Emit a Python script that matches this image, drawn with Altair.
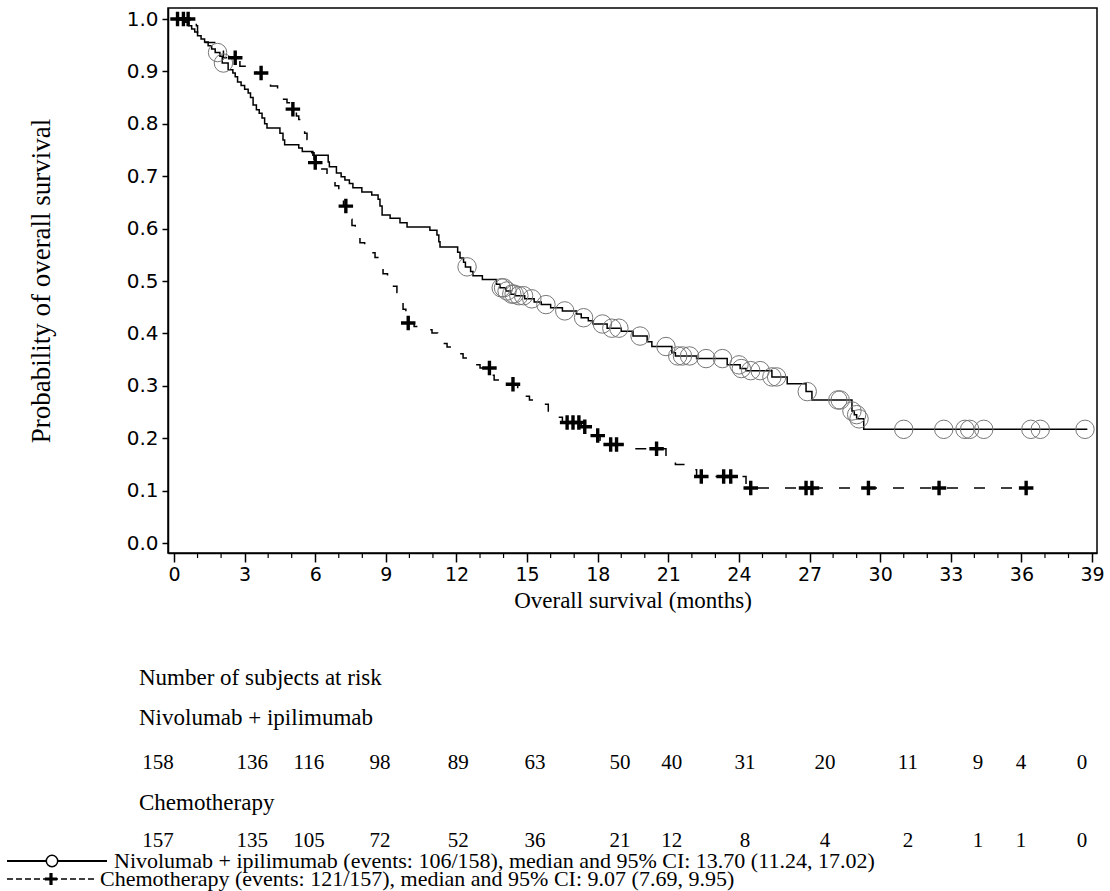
import altair as alt
import pandas as pd

# ---------------- data ----------------
nivo_t = [0, 0.5, 0.62, 0.75, 0.88, 1.0, 1.15, 1.3, 1.45, 1.6, 1.75, 1.95, 2.05, 2.3, 2.5,
          2.6, 2.7, 2.85, 3.0, 3.15, 3.25, 3.36, 3.5, 3.62, 3.74, 3.85, 3.95, 4.5, 4.63, 4.7,
          5.3, 5.45, 5.9, 6.55, 6.6, 6.9, 7.1, 7.26, 7.45, 7.6, 7.98, 8.4, 8.67, 8.75, 8.84,
          9.18, 9.6, 9.9, 10.87, 11.17, 11.25, 11.3, 12.05, 12.15, 12.3, 12.38, 12.6, 12.7,
          13.1, 13.7, 13.85, 14.1, 14.3, 14.5, 14.9, 15.3, 15.6, 16.0, 16.5, 17.1, 17.3, 17.6,
          17.8, 18.4, 19.0, 19.5, 20.1, 20.3, 21.15, 21.3, 22.2, 23.5, 24.05, 24.3, 25.4,
          26.05, 26.85, 27.1, 28.8, 28.9, 29.0, 29.3, 38.8]
nivo_s = [1.0, 0.994, 0.987, 0.981, 0.975, 0.968, 0.962, 0.956, 0.949, 0.943, 0.936, 0.929,
          0.916, 0.903, 0.897, 0.89, 0.88, 0.873, 0.866, 0.859, 0.85, 0.836, 0.827, 0.82,
          0.811, 0.80, 0.792, 0.782, 0.769, 0.76, 0.754, 0.747, 0.740, 0.727, 0.718, 0.706,
          0.699, 0.693, 0.686, 0.678, 0.670, 0.664, 0.656, 0.643, 0.626, 0.620, 0.611, 0.603,
          0.597, 0.588, 0.575, 0.565, 0.555, 0.544, 0.536, 0.527, 0.518, 0.51, 0.503, 0.494,
          0.487, 0.481, 0.475, 0.472, 0.466, 0.46, 0.455, 0.449, 0.443, 0.437, 0.43, 0.424,
          0.418, 0.41, 0.404, 0.395, 0.384, 0.375, 0.363, 0.357, 0.352, 0.340, 0.333, 0.329,
          0.317, 0.304, 0.289, 0.273, 0.252, 0.245, 0.237, 0.217, 0.217]

nivo_cens_t = [1.85, 2.1, 12.45, 13.9, 14.0, 14.15, 14.35, 14.45, 14.65, 14.85, 15.2, 15.8,
               16.6, 17.4, 18.2, 18.6, 18.9, 19.8, 20.9, 21.4, 21.6, 21.9, 22.6, 23.3, 24.0,
               24.1, 24.5, 24.9, 25.4, 25.6, 26.9, 28.2, 28.3, 28.8, 29.0, 29.1, 31.0, 32.7,
               33.6, 33.8, 34.4, 36.4, 36.8, 38.7]
nivo_cens_s = [0.936, 0.916, 0.527, 0.487, 0.487, 0.481, 0.475, 0.475, 0.472, 0.472, 0.466,
               0.455, 0.443, 0.43, 0.418, 0.41, 0.41, 0.395, 0.375, 0.357, 0.357, 0.357, 0.352,
               0.352, 0.340, 0.333, 0.329, 0.329, 0.317, 0.317, 0.289, 0.273, 0.273, 0.252,
               0.245, 0.237, 0.217, 0.217, 0.217, 0.217, 0.217, 0.217, 0.217, 0.217]

chemo_t = [0, 0.95, 1.0, 1.2, 1.8, 2.1, 2.8, 3.5, 3.9, 4.1, 4.4, 4.6, 4.8, 5.0, 5.2, 5.3,
           5.4, 5.55, 5.65, 5.75, 5.85, 5.95, 6.2, 6.5, 6.84, 7.0, 7.1, 7.2, 7.4, 7.5, 7.56,
           7.7, 7.9, 8.1, 8.3, 8.54, 8.7, 8.88, 9.07, 9.47, 9.6, 9.73, 9.85, 10.2, 10.5,
           10.96, 11.2, 11.4, 11.6, 11.9, 12.1, 12.28, 12.6, 12.8, 13.0, 13.5, 13.6, 14.0,
           14.6, 14.9, 15.1, 15.5, 15.9, 16.2, 16.5, 17.3, 17.6, 17.9, 18.1, 18.5, 19.5,
           20.9, 21.3, 21.9, 22.2, 24.3, 36.2]
chemo_s = [1.0, 0.987, 0.968, 0.955, 0.942, 0.926, 0.91, 0.897, 0.885, 0.872, 0.86, 0.847,
           0.84, 0.828, 0.815, 0.808, 0.795, 0.782, 0.77, 0.757, 0.745, 0.726, 0.714, 0.701,
           0.682, 0.67, 0.656, 0.643, 0.63, 0.618, 0.606, 0.592, 0.573, 0.56, 0.554, 0.545,
           0.528, 0.514, 0.49, 0.478, 0.465, 0.446, 0.42, 0.413, 0.407, 0.401, 0.394, 0.381,
           0.374, 0.368, 0.361, 0.353, 0.347, 0.340, 0.334, 0.32, 0.311, 0.303, 0.29, 0.28,
           0.273, 0.265, 0.25, 0.24, 0.23, 0.222, 0.214, 0.205, 0.196, 0.188, 0.18, 0.165,
           0.15, 0.14, 0.127, 0.105, 0.105]

chemo_cens_t = [0.15, 0.4, 0.6, 2.6, 3.7, 5.05, 6.0, 7.3, 9.95, 13.4, 14.4, 16.7, 16.95,
                17.2, 17.45, 18.0, 18.55, 18.8, 20.5, 22.4, 23.35, 23.65, 24.5, 26.85, 27.1,
                29.5, 32.5, 36.2]
chemo_cens_s = [1.0, 1.0, 1.0, 0.926, 0.897, 0.828, 0.726, 0.643, 0.42, 0.334, 0.303, 0.23,
                0.23, 0.23, 0.222, 0.205, 0.188, 0.188, 0.18, 0.127, 0.127, 0.127, 0.105,
                0.105, 0.105, 0.105, 0.105, 0.105]

risk_nivo = [158, 136, 116, 98, 89, 63, 50, 40, 31, 20, 11, 9, 4, 0]
risk_chemo = [157, 135, 105, 72, 52, 36, 21, 12, 8, 4, 2, 1, 1, 0]
# column positions of the at-risk table, expressed in months on the x scale
risk_col_pos = [-0.68, 3.32, 5.73, 8.75, 12.07, 15.34, 18.95, 21.15, 24.26, 27.66, 31.18,
                34.15, 35.98, 38.57]

x_major_ticks = [0, 3, 6, 9, 12, 15, 18, 21, 24, 27, 30, 33, 36, 39]
x_minor_ticks = [1, 2, 4, 5, 7, 8, 10, 11, 13, 14, 16, 17, 19, 20, 22, 23, 25, 26, 28, 29,
                 31, 32, 34, 35, 37, 38]
y_tick_values = [0.0, 0.1, 0.2, 0.3, 0.4, 0.5, 0.6, 0.7, 0.8, 0.9, 1.0]

label_nivo = "Nivolumab + ipilimumab"
label_chemo = "Chemotherapy"
legend_nivo = "Nivolumab + ipilimumab (events: 106/158), median and 95% CI: 13.70 (11.24, 17.02)"
legend_chemo = "Chemotherapy (events: 121/157), median and 95% CI: 9.07 (7.69, 9.95)"
risk_title = "Number of subjects at risk"

# ---------------- layout ----------------
W, H = 929, 545
SERIF = "Liberation Serif"
SANS = "DejaVu Sans"
xs = alt.Scale(domain=[-0.255, 39.21], nice=False, zero=False)
ys = alt.Scale(domain=[-0.019, 1.021], nice=False, zero=False)

x_axis = alt.Axis(
    values=x_major_ticks, tickSize=9, format="d", grid=False, labelOverlap=False,
    labelFlush=False, labelBound=False,
    title="Overall survival (months)", titleFont=SERIF, titleFontSize=23,
    titleFontWeight="normal", titleColor="black", titlePadding=5,
    labelFont=SANS, labelFontSize=19, labelColor="black", labelPadding=3,
    domainColor="black", domainWidth=1.5, tickColor="black", tickWidth=1.5)
y_axis = alt.Axis(
    values=y_tick_values, format=".1f", grid=False, tickSize=6, labelOverlap=False,
    labelFlush=False, labelBound=False,
    title="Probability of overall survival", titleFont=SERIF, titleFontSize=27,
    titleFontWeight="normal", titleColor="black", titlePadding=71,
    labelFont=SANS, labelFontSize=20, labelColor="black", labelPadding=4,
    domainColor="black", domainWidth=1.5, tickColor="black", tickWidth=1.5)

nivo_df = pd.DataFrame({"t": nivo_t, "s": nivo_s})
chemo_df = pd.DataFrame({"t": chemo_t, "s": chemo_s})
nivo_c = pd.DataFrame({"t": nivo_cens_t, "s": nivo_cens_s})
chemo_c = pd.DataFrame({"t": chemo_cens_t, "s": chemo_cens_s})

nivo_line = alt.Chart(nivo_df).mark_line(interpolate="step-after", color="black", strokeWidth=1.5).encode(
    x=alt.X("t:Q", scale=xs, axis=x_axis), y=alt.Y("s:Q", scale=ys, axis=y_axis))
chemo_line = alt.Chart(chemo_df).mark_line(interpolate="step-after", color="black", strokeWidth=1.5,
                                           strokeDash=[11, 16]).encode(
    x=alt.X("t:Q", scale=xs), y=alt.Y("s:Q", scale=ys))
nivo_pts = alt.Chart(nivo_c).mark_point(shape="circle", size=340, filled=False, color="#777777",
                                        strokeWidth=1, opacity=1).encode(
    x=alt.X("t:Q", scale=xs), y=alt.Y("s:Q", scale=ys))
PLUS = "M-1,0H1M0,-1V1"
chemo_pts = alt.Chart(chemo_c).mark_point(shape=PLUS, size=210, filled=False, color="black",
                                          strokeWidth=3.4, opacity=1).encode(
    x=alt.X("t:Q", scale=xs), y=alt.Y("s:Q", scale=ys))

minor = alt.Chart(pd.DataFrame({"m": x_minor_ticks})).mark_rule(color="black", strokeWidth=1.2).encode(
    x=alt.X("m:Q", scale=xs), y=alt.value(H), y2=alt.value(H + 5))

# ---------------- at-risk table and legend (below the plot) ----------------
ROW = {"title": 670, "nivo_lab": 710, "nivo_num": 755, "chemo_lab": 795, "chemo_num": 833,
       "leg1": 853, "leg2": 871}
LEFT = -29  # left edge of the table labels relative to plot


def row_label(text, key, x=LEFT, size=23):
    return alt.Chart(pd.DataFrame({"txt": [text]})).mark_text(
        align="left", baseline="middle", font=SERIF, fontSize=size, color="black").encode(
        x=alt.value(x), y=alt.value(ROW[key]), text="txt:N")


def risk_row(vals, key):
    df = pd.DataFrame({"pos": risk_col_pos, "n": [str(v) for v in vals]})
    return alt.Chart(df).mark_text(align="center", baseline="middle", font=SERIF, fontSize=21,
                                   color="black").encode(
        x=alt.X("pos:Q", scale=xs), y=alt.value(ROW[key]), text="n:N")


leg_nivo_rule = alt.Chart(pd.DataFrame({"a": [0]})).mark_rule(color="black", strokeWidth=1.8).encode(
    x=alt.value(-161), x2=alt.value(-61), y=alt.value(ROW["leg1"]))
leg_nivo_sym = alt.Chart(pd.DataFrame({"a": [0]})).mark_point(
    shape="circle", size=130, filled=True, fill="white", stroke="black", strokeWidth=1.5, opacity=1).encode(
    x=alt.value(-116), y=alt.value(ROW["leg1"]))
leg_chemo_rule = alt.Chart(pd.DataFrame({"a": [0]})).mark_rule(color="black", strokeWidth=1.5,
                                                              strokeDash=[6, 3]).encode(
    x=alt.value(-161), x2=alt.value(-74), y=alt.value(ROW["leg2"]))
leg_chemo_sym = alt.Chart(pd.DataFrame({"a": [0]})).mark_point(
    shape=PLUS, size=150, filled=False, color="black", strokeWidth=3.2, opacity=1).encode(
    x=alt.value(-117), y=alt.value(ROW["leg2"]))

chart = alt.layer(
    nivo_line, chemo_line, nivo_pts, chemo_pts, minor,
    row_label(risk_title, "title"), row_label(label_nivo, "nivo_lab"), risk_row(risk_nivo, "nivo_num"),
    row_label(label_chemo, "chemo_lab"), risk_row(risk_chemo, "chemo_num"),
    leg_nivo_rule, leg_nivo_sym, row_label(legend_nivo, "leg1", x=-54, size=22),
    leg_chemo_rule, leg_chemo_sym, row_label(legend_chemo, "leg2", x=-68, size=22),
).properties(
    width=W, height=H,
    autosize=alt.AutoSizeParams(type="none"),
    padding={"left": 168, "top": 8, "right": 13, "bottom": 891 - 8 - H},
    background="white",
).configure_view(stroke="black", strokeWidth=1.5)

chart.save("out.html", embed_options={"renderer": "svg", "actions": False})
